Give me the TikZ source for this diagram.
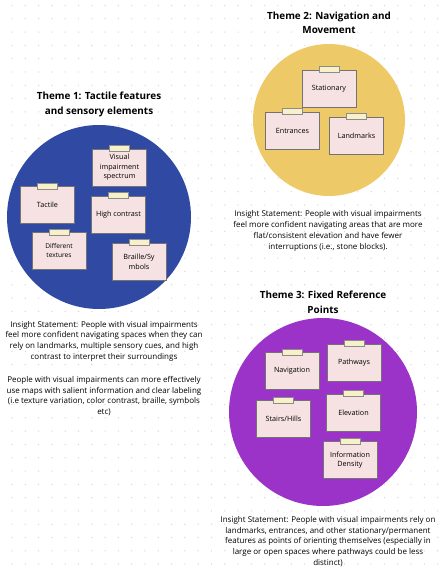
\documentclass[tikz,border=0pt]{standalone}
\usepackage{fontspec}
\setmainfont{Open Sans}
\usepackage{xcolor}
\definecolor{themeblue}{RGB}{48,74,163}
\definecolor{themeyellow}{RGB}{238,201,104}
\definecolor{themepurple}{RGB}{155,51,201}
\definecolor{notepink}{RGB}{246,226,226}
\definecolor{tapeyellow}{RGB}{248,240,200}
\definecolor{gridgray}{RGB}{215,215,215}

\tikzset{
  sticky/.style={draw=black!55, fill=notepink, line width=0.6pt,
    minimum width=54pt, minimum height=37pt, inner sep=1pt,
    align=center, font=\fontsize{7.2}{9.6}\selectfont},
  tape/.style={draw=black!45, fill=tapeyellow, line width=0.5pt,
    minimum width=20pt, minimum height=6pt, inner sep=0pt},
  theme/.style={align=center, font=\bfseries\fontsize{9.9}{14.5}\selectfont},
  insight/.style={align=center, font=\fontsize{8}{10.8}\selectfont}
}

\begin{document}
\begin{tikzpicture}[x=1pt, y=-1pt]
    % Marco de la imagen
    \useasboundingbox (0,0) rectangle (443,572);
    \fill[white] (0,0) rectangle (443,572);

    % Cuadricula de puntos
    \foreach \i in {0,...,33}
      \foreach \j in {0,...,42}
        \fill[gridgray] (12+13.3*\i, 5.5+13.3*\j) circle (0.7);

    % Circulos de los temas
    \fill[themeblue] (99,217) circle (92);
    \fill[themeyellow] (329,120) circle (76);
    \fill[themepurple] (323,412) circle (94);

    % Titulos
    \node[theme] (t1) at (99,104.5) {Theme 1: Tactile features\\and sensory elements};
    \node[theme] (t2) at (329,23) {Theme 2: Navigation and\\Movement};
    \node[theme] (t3) at (323,302.5) {Theme 3: Fixed Reference\\Points};

    % Notas del tema 1
    \node[sticky] (vis) at (119.5,167.5) {Visual\\impairment\\spectrum};
    \node[sticky] (tact) at (47.5,205) {Tactile};
    \node[sticky] (high) at (118.5,214.5) {High contrast};
    \node[sticky, font=\fontsize{6.6}{9}\selectfont] (diff) at (59,251) {Different\\textures};
    \node[sticky] (brl) at (139,261.5) {Braille/Sy\\mbols};

    % Notas del tema 2
    \node[sticky] (stat) at (329,88.5) {Stationary};
    \node[sticky] (ent) at (292.5,130.5) {Entrances};
    \node[sticky] (land) at (356.5,135.5) {Landmarks};

    % Notas del tema 3
    \node[sticky] (nav) at (292,371) {Navigation};
    \node[sticky] (path) at (354,362.5) {Pathways};
    \node[sticky] (stairs) at (283.5,419) {Stairs/Hills};
    \node[sticky] (elev) at (353.5,412.5) {Elevation};
    \node[sticky] (info) at (350,460) {Information\\Density};

    % Cintas sobre cada nota
    \foreach \n in {vis,tact,high,diff,brl,stat,ent,land,nav,path,stairs,elev,info}
      \node[tape] at (\n.north) {};

    % Textos de conclusiones
    \node[insight] (ins1) at (104,368.5) {Insight Statement: People with visual impairments\\
      feel more confident navigating spaces when they can\\
      rely on landmarks, multiple sensory cues, and high\\
      contrast to interpret their surroundings\\[12pt]
      People with visual impairments can more effectively\\
      use maps with salient information and clear labeling\\
      (i.e texture variation, color contrast, braille, symbols\\
      etc)};
    \node[insight] (ins2) at (328,231) {Insight Statement: People with visual impairments\\
      feel more confident navigating areas that are more\\
      flat/consistent elevation and have fewer\\
      interruptions (i.e., stone blocks).};
    \node[insight] (ins3) at (328,541.5) {Insight Statement: People with visual impairments rely on\\
      landmarks, entrances, and other stationary/permanent\\
      features as points of orienting themselves (especially in\\
      large or open spaces where pathways could be less\\
      distinct)};
\end{tikzpicture}
\end{document}
